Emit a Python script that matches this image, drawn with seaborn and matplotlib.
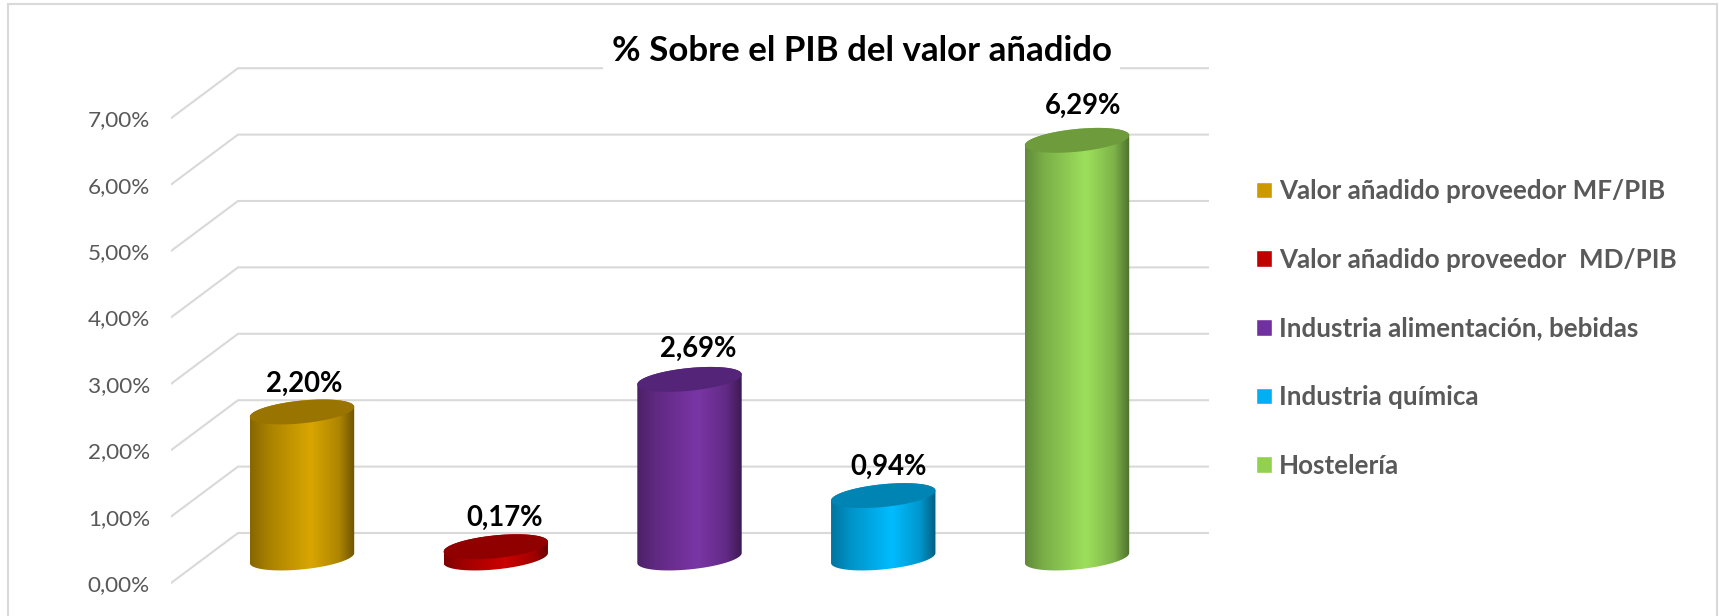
import numpy as np
import pandas as pd
import matplotlib
matplotlib.use('Agg')
import matplotlib.pyplot as plt
from matplotlib.colors import LinearSegmentedColormap, to_rgb
from matplotlib.patches import Polygon, Rectangle
import seaborn as sns

# values
categorias = ['Valor añadido proveedor MF/PIB', 'Valor añadido proveedor  MD/PIB',
              'Industria alimentación, bebidas', 'Industria química', 'Hostelería']
valores = [2.20, 0.17, 2.69, 0.94, 6.29]
etiquetas = ['2,20%', '0,17%', '2,69%', '0,94%', '6,29%']
ticks = [0, 1, 2, 3, 4, 5, 6, 7]
tick_labels = ['0,00%', '1,00%', '2,00%', '3,00%', '4,00%', '5,00%', '6,00%', '7,00%']
colores = ['#CC9900', '#C00000', '#7030A0', '#00B0F0', '#92D050']
brillo = ['#D9A600', '#CC0000', '#7A35A6', '#00BCFF', '#9DE05C']
tapa = ['#9A7400', '#900000', '#542478', '#0084B4', '#6E9C3C']
titulo = '% Sobre el PIB del valor añadido'
# label nudges in pixels
nudge_x = [2, 9, 9, 5, 6]
nudge_y = [28, 29, 31, 29, 34]

W, H = 1719, 616
sns.set_style('white')
plt.rcParams['font.family'] = ['Lato', 'DejaVu Sans']

fig = plt.figure(figsize=(W / 100, H / 100), dpi=100)
ax = fig.add_axes([171 / W, 0, (1209 - 171) / W, 1])

df = pd.DataFrame({'categoria': categorias, 'valor': valores})
sns.barplot(data=df, x='categoria', y='valor', hue='categoria', palette=colores,
            width=0.54, saturation=1, legend=True, ax=ax)
handles, labels = ax.get_legend_handles_labels()

# pixels per unit: 66.4 in y, 193.75 in x
ax.set_xlim((171 - 302) / 193.75, (1209 - 302) / 193.75)
ax.set_ylim((558 - 616) / 66.4, 558 / 66.4)
prof = 25 / 66.4   # half depth of the 3d floor
xback = (238 - 302) / 193.75
x0, x1 = ax.get_xlim()

# walls: front stub + back line
for t in ticks:
    ax.plot([x0, xback, x1], [t - prof, t + prof, t + prof], color='#D9D9D9', lw=1.5,
            zorder=1, solid_joinstyle='miter')

a = 52.2 / 193.75
b = 11.4 / 66.4
s = 5 / 66.4
ang = np.linspace(0, 2 * np.pi, 120)
bajo = np.linspace(np.pi, 2 * np.pi, 60)
sube = np.linspace(0, np.pi, 60)

barras = sorted([p for cont in ax.containers for p in cont], key=lambda p: p.get_x())
for i, p in enumerate(barras):
    cx = p.get_x() + p.get_width() / 2
    v = p.get_height()
    p.set_visible(False)
    # body of the cylinder
    xs = np.r_[cx + a * np.cos(bajo), cx + a * np.cos(sube)]
    ys = np.r_[b * np.sin(bajo) + s * np.cos(bajo), v + b * np.sin(sube) + s * np.cos(sube)]
    cuerpo = Polygon(np.c_[xs, ys], closed=True, fc='none', ec='none', transform=ax.transData)
    ax.add_patch(cuerpo)
    c = np.array(to_rgb(brillo[i]))
    cmap = LinearSegmentedColormap.from_list('c', [(0, c * 0.62), (0.18, c * 0.78), (0.58, c),
                                                  (0.85, c * 0.8), (1, c * 0.5)])
    grad = np.linspace(0, 1, 256).reshape(1, -1)
    im = ax.imshow(grad, cmap=cmap, aspect='auto', zorder=3, interpolation='bilinear',
                   extent=[cx - a, cx + a, -0.5, v + 0.5])
    im.set_clip_path(cuerpo)
    # top of the cylinder
    ax.add_patch(Polygon(np.c_[cx + a * np.cos(ang), v + b * np.sin(ang) + s * np.cos(ang)],
                         closed=True, fc=tapa[i], ec='none', zorder=4))
    ax.annotate(etiquetas[i], xy=(cx, v), xytext=(nudge_x[i] * 0.72, nudge_y[i] * 0.72),
                textcoords='offset points', ha='center', va='center', fontsize=19.8,
                fontweight='bold', color='black', zorder=5)

ax.set_xlim(x0, x1)
ax.set_ylim((558 - 616) / 66.4, 558 / 66.4)
ax.set_xticks([])
ax.set_xlabel('')
ax.set_ylabel('')
ax.set_yticks([t - prof for t in ticks])
ax.set_yticklabels(tick_labels)
ax.tick_params(axis='y', length=0, pad=21 * 0.72, labelsize=16.2, labelcolor='#595959')
sns.despine(ax=ax, left=True, bottom=True)
ax.patch.set_alpha(0)

ax.legend(handles, labels, loc='center left', bbox_to_anchor=(1256 / W, 1 - 328.5 / H),
          bbox_transform=fig.transFigure, frameon=False, borderaxespad=0, borderpad=0,
          prop={'size': 18.7, 'weight': 'bold'}, labelcolor='#595959',
          handlelength=0.615, handleheight=0.615, handletextpad=0.27, labelspacing=1.72)

fig.text(861.5 / W, 1 - 51 / H, titulo, ha='center', va='center', fontsize=25.1, fontweight='bold',
         color='black', zorder=6,
         bbox=dict(fc='white', ec='none', boxstyle='square,pad=0.25'))

fig.add_artist(Rectangle((8 / W, -0.05), (1717 - 8) / W, 1.05 - 4 / H, transform=fig.transFigure,
                         fc='none', ec='#D9D9D9', lw=1.5))

fig.savefig('out.png', dpi=100)
